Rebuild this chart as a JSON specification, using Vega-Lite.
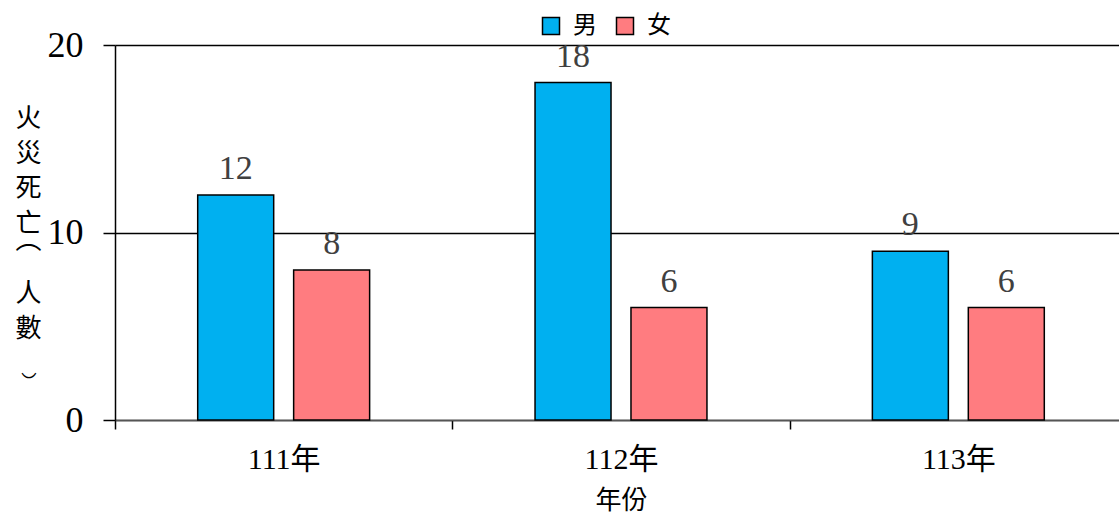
{
  "$schema": "https://vega.github.io/schema/vega-lite/v6.json",
  "width": 1004,
  "height": 375,
  "autosize": {"type": "none"},
  "padding": {"left": 115, "top": 45, "right": 0, "bottom": 96},
  "background": "white",
  "config": {"view": {"stroke": null}},
  "data": {
    "values": [
      {"year": "111年", "sex": "男", "value": 12},
      {"year": "111年", "sex": "女", "value": 8},
      {"year": "112年", "sex": "男", "value": 18},
      {"year": "112年", "sex": "女", "value": 6},
      {"year": "113年", "sex": "男", "value": 9},
      {"year": "113年", "sex": "女", "value": 6}
    ]
  },
  "encoding": {
    "x": {
      "field": "year",
      "type": "nominal",
      "sort": ["111年", "112年", "113年"],
      "scale": {"range": [0, 1012], "paddingInner": 0, "paddingOuter": 0},
      "title": "年份",
      "axis": {
        "labelAngle": 0,
        "labelFont": "Liberation Serif, Noto Sans CJK TC",
        "labelFontSize": 30,
        "labelColor": "black",
        "labelPadding": 15,
        "tickBand": "extent",
        "tickSize": 9,
        "tickColor": "black",
        "tickWidth": 1.5,
        "domainColor": "#555555",
        "domainWidth": 1.5,
        "grid": false,
        "titleFont": "Noto Sans CJK TC",
        "titleFontSize": 26,
        "titleFontWeight": "normal",
        "titleColor": "black",
        "titleY": 80,
        "titleBaseline": "middle"
      }
    },
    "xOffset": {
      "field": "sex",
      "type": "nominal",
      "sort": ["男", "女"],
      "scale": {"paddingInner": 0.208, "paddingOuter": 0.862}
    },
    "y": {
      "field": "value",
      "type": "quantitative",
      "scale": {"domain": [0, 20], "nice": false},
      "title": ["火", "災", "死", "亡", "⌒", "人", "數", "‿"],
      "axis": {
        "values": [0, 10, 20],
        "grid": true,
        "gridColor": "black",
        "gridWidth": 1.5,
        "domainColor": "black",
        "domainWidth": 1.5,
        "tickColor": "black",
        "tickWidth": 1.5,
        "tickSize": 12,
        "labelFont": "Liberation Serif",
        "labelFontSize": 36,
        "labelColor": "black",
        "labelPadding": 20,
        "titleAngle": 0,
        "titleFont": "Noto Sans CJK TC",
        "titleFontSize": 26,
        "titleFontWeight": "normal",
        "titleColor": "black",
        "titleLineHeight": 35,
        "titleX": -87,
        "titleY": 60,
        "titleAlign": "center",
        "titleBaseline": "top"
      }
    }
  },
  "layer": [
    {
      "mark": {"type": "bar", "stroke": "black", "strokeWidth": 1.5},
      "encoding": {
        "color": {
          "field": "sex",
          "type": "nominal",
          "sort": ["男", "女"],
          "scale": {"domain": ["男", "女"], "range": ["#00B0F0", "#FF7C80"]},
          "legend": {
            "title": null,
            "orient": "none",
            "direction": "horizontal",
            "legendX": 424,
            "legendY": -31,
            "symbolType": "square",
            "symbolSize": 289,
            "symbolStrokeColor": "black",
            "symbolStrokeWidth": 1.5,
            "symbolOpacity": 1,
            "labelFont": "Noto Sans CJK TC",
            "labelFontSize": 24,
            "labelColor": "black",
            "labelOffset": 10,
            "columnPadding": 16
          }
        }
      }
    },
    {
      "mark": {
        "type": "text",
        "baseline": "alphabetic",
        "dy": -16,
        "font": "Liberation Serif",
        "fontSize": 34,
        "color": "#404040"
      },
      "encoding": {"text": {"field": "value", "type": "quantitative"}}
    }
  ]
}
